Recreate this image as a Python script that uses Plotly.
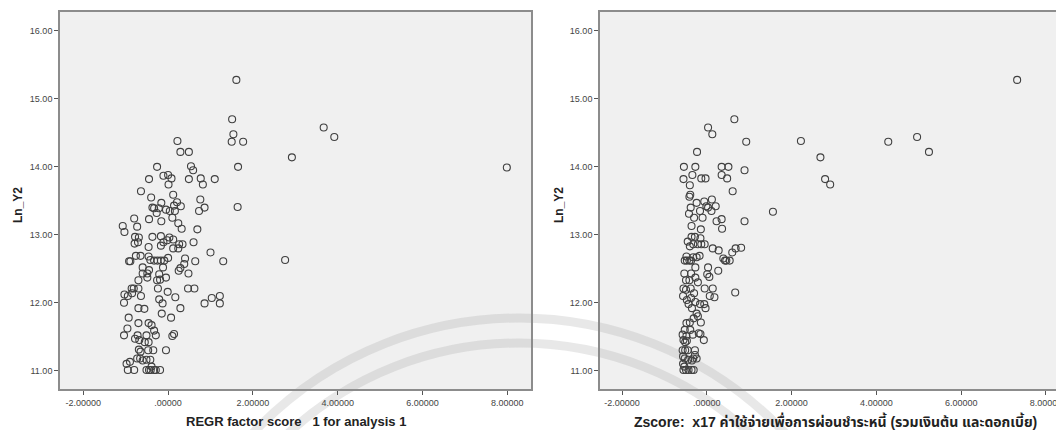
import plotly.graph_objects as go

# ---------------- data ----------------
left_x = [1.61, 1.51, 1.54, 1.50, 1.77, 3.67, 3.92, 2.92, 7.99, 1.65, 1.64, 2.76,
          0.22, 0.29, 0.49, 0.54, 0.59, 0.49, 0.77, 0.82, 1.10, 0.76, 0.86, 0.73,
          0.69, 0.60, 1.00, 1.30, 0.64, 0.40, 0.38, 0.48, 0.29, 0.25, 0.47, 0.62,
          1.03, 1.22, 0.86, 1.22, 0.17, 0.29, 0.07, 0.14, 0.10, -0.05, -0.15, -0.21,
          -0.13, -0.01, -0.05, -0.12, 0.00, -0.09, -0.17, -0.25, -0.33, -0.42, -0.46,
          -0.17, -0.11, -0.17, -0.37, -0.02, 0.03, 0.12, 0.12, 0.24, 0.26, 0.34,
          0.24, 0.32, 0.10, 0.16, 0.04, -0.05, 0.21, 0.14, 0.12, 0.30, 0.01, 0.08,
          0.00, -0.11, -0.26, -0.45, -0.64, -0.40, -0.16, -0.37, -0.33, -0.22, -0.27,
          -0.16, -0.45, -0.80, -0.73, -1.07, -1.03, -0.78, -0.69, -0.79, -0.71, -0.46,
          -0.76, -0.65, -0.92, -0.89, -0.60, -0.60, -0.49, -0.49, -0.70, -0.45, -0.21,
          -0.26, -0.19, -0.24, -0.86, -0.81, -0.85, -0.70, -0.64, -1.03, -0.95, -1.04,
          -0.70, -0.56, -0.93, -0.96, -1.04, -0.70, -0.46, -0.39, -0.33, -0.29, -0.51,
          -0.72, -0.78, -0.68, -0.55, -0.46, -0.69, -0.65, -0.47, -0.35, -0.73, -0.66,
          -0.60, -0.51, -0.42, -0.98, -0.90, -0.95, -0.80, -0.51, -0.45, -0.39, -0.33,
          -0.19, -0.29, -0.41]
left_y = [15.28, 14.70, 14.48, 14.37, 14.37, 14.58, 14.44, 14.14, 13.99, 14.00, 13.41, 12.63,
          14.38, 14.22, 14.22, 14.01, 13.95, 13.82, 13.83, 13.74, 13.82, 13.52, 13.40, 13.35,
          13.08, 12.89, 12.74, 12.61, 12.61, 12.65, 12.57, 12.43, 12.51, 12.47, 12.21, 12.21,
          12.07, 12.10, 11.99, 11.99, 12.08, 11.92, 11.78, 11.54, 11.51, 11.30, 11.84, 12.05,
          11.99, 12.16, 12.37, 12.52, 12.66, 12.62, 12.62, 12.62, 12.62, 12.63, 12.68,
          12.84, 12.89, 12.98, 12.97, 12.92, 12.96, 12.93, 12.80, 12.80, 12.86, 12.86,
          13.17, 13.09, 13.25, 13.35, 13.35, 13.37, 13.48, 13.43, 13.59, 13.42, 13.74, 13.83,
          13.88, 13.87, 14.00, 13.82, 13.64, 13.55, 13.47, 13.40, 13.39, 13.39, 13.32,
          13.20, 13.23, 13.24, 13.12, 13.13, 13.04, 12.97, 12.96, 12.87, 12.89, 12.82,
          12.69, 12.69, 12.61, 12.61, 12.52, 12.43, 12.43, 12.37, 12.33, 12.48, 12.42,
          12.33, 12.34, 12.21, 12.21, 12.21, 12.14, 12.21, 12.10, 12.12, 12.10, 12.00,
          11.92, 11.91, 11.78, 11.62, 11.52, 11.70, 11.70, 11.67, 11.59, 11.52, 11.52,
          11.52, 11.47, 11.45, 11.42, 11.42, 11.31, 11.28, 11.30, 11.30, 11.18, 11.18,
          11.15, 11.16, 11.16, 11.10, 11.13, 11.01, 11.01, 11.01, 11.01, 11.06, 11.01,
          11.01, 11.01, 11.01]

right_x = [7.32, 4.96, 4.28, 5.24, 2.22, 2.68, 2.79, 2.91, 1.56, 0.65, 0.03, 0.13, 0.93,
           -0.23, -0.54, -0.27, 0.35, 0.51, 0.89, 0.35, 0.48, -0.55, -0.34, -0.13, -0.03,
           -0.40, 0.61, -0.39, -0.41, -0.24, -0.06, 0.12, 0.21, -0.01, 0.03, 0.11, -0.16,
           -0.38, -0.42, -0.30, -0.10, 0.23, 0.35, 0.89, 0.36, -0.36, -0.14, -0.36, -0.28,
           -0.45, -0.40, -0.32, -0.21, -0.13, -0.05, -0.15, 0.14, 0.28, 0.81, 0.68, 0.60,
           0.39, 0.46, 0.54, 0.43, -0.48, -0.32, -0.24, -0.17, -0.52, -0.47, -0.41, -0.37,
           -0.27, -0.53, -0.37, -0.27, -0.49, -0.41, -0.21, 0.03, 0.06, 0.01, 0.27, -0.05,
           0.14, 0.07, 0.18, 0.67, -0.55, -0.49, -0.38, -0.30, -0.56, -0.47, -0.37, -0.27,
           -0.43, -0.16, -0.06, -0.03, -0.35, -0.24, -0.21, -0.31, -0.14, -0.48, -0.40,
           -0.52, -0.39, -0.57, -0.48, -0.33, -0.19, -0.15, -0.07, -0.55, -0.51, -0.47,
           -0.57, -0.51, -0.45, -0.28, -0.28, -0.52, -0.44, -0.32, -0.24, -0.35, -0.56,
           -0.53, -0.55, -0.49, -0.43, -0.36, -0.31, -0.56]
right_y = [15.28, 14.44, 14.37, 14.22, 14.38, 14.14, 13.82, 13.74, 13.34, 14.70, 14.58, 14.48, 14.37,
           14.22, 14.00, 14.00, 14.00, 14.00, 13.95, 13.88, 13.83, 13.82, 13.88, 13.83, 13.83,
           13.73, 13.64, 13.59, 13.56, 13.47, 13.49, 13.52, 13.42, 13.42, 13.40, 13.35, 13.35,
           13.40, 13.31, 13.25, 13.25, 13.20, 13.23, 13.20, 13.09, 13.13, 13.08, 12.97, 12.97,
           12.90, 12.83, 12.86, 12.86, 12.86, 12.86, 12.95, 12.80, 12.77, 12.81, 12.80, 12.74,
           12.65, 12.62, 12.62, 12.62, 12.68, 12.67, 12.67, 12.69, 12.62, 12.62, 12.62, 12.62,
           12.52, 12.43, 12.43, 12.37, 12.33, 12.33, 12.30, 12.52, 12.38, 12.42, 12.47, 12.21,
           12.21, 12.10, 12.08, 12.15, 12.21, 12.19, 12.21, 12.14, 12.10, 12.04, 12.07, 12.01,
           11.98, 11.98, 11.98, 11.92, 11.92, 11.84, 11.80, 11.77, 11.71, 11.70, 11.71,
           11.60, 11.60, 11.53, 11.51, 11.53, 11.55, 11.54, 11.45, 11.45, 11.42, 11.44,
           11.30, 11.30, 11.30, 11.30, 11.23, 11.18, 11.16, 11.18, 11.18, 11.15, 11.10,
           11.06, 11.01, 11.01, 11.01, 11.01, 11.01, 11.21]

x_tickvals = [-2, 0, 2, 4, 6, 8]
x_ticktext = ["-2.00000", ".00000", "2.00000", "4.00000", "6.00000", "8.00000"]
y_tickvals = [11, 12, 13, 14, 15, 16]
y_ticktext = ["11.00", "12.00", "13.00", "14.00", "15.00", "16.00"]

left_xtitle = "REGR factor score\u00a0\u00a0\u00a01 for analysis 1"
right_xtitle = "Zscore:\u00a0\u00a0x17 ค่าใช้จ่ายเพื่อการผ่อนชำระหนี้ (รวมเงินต้น และดอกเบี้ย)"
ytitle = "Ln_Y2"

# ---------------- layout helpers (page pixels; body has an 8px margin) ----------------
OFF = 8
W, H = 1064 - OFF, 430 - OFF


def px(x):
    return (x - OFF) / W


def py(y):
    return 1 - (y - OFF) / H


FONT = "Liberation Sans, Arial, Noto Sans Thai, sans-serif"
AX = "#8c8c8c"
BG = "#f0f0f0"

TOP, BOT = 11.7, 389
L1, R1 = 60, 531
L2, R2 = 600, 1064

marker = dict(symbol="circle-open", size=7, color="#404040", line=dict(width=1.1))

fig = go.Figure()
fig.add_trace(go.Scatter(x=left_x, y=left_y, mode="markers", marker=marker,
                         xaxis="x", yaxis="y", showlegend=False))
fig.add_trace(go.Scatter(x=right_x, y=right_y, mode="markers", marker=marker,
                         xaxis="x2", yaxis="y2", showlegend=False))

ydom = [py(BOT), py(TOP)]
common_x = dict(tickvals=x_tickvals, ticktext=x_ticktext, showgrid=False, zeroline=False,
                ticks="outside", ticklen=4, tickcolor="#555", tickwidth=1,
                showline=True, linecolor=AX, linewidth=1.6, mirror=True,
                ticklabeloverflow="allow",
                tickfont=dict(family=FONT, size=9, color="#444"))
common_y = dict(tickvals=y_tickvals, ticktext=y_ticktext, showgrid=False, zeroline=False,
                ticks="outside", ticklen=4, tickcolor="#555", tickwidth=1,
                showline=True, linecolor=AX, linewidth=1.6,
                range=[10.73, 16.284], domain=ydom,
                tickfont=dict(family=FONT, size=9, color="#444"))

# plot backgrounds and faint watermark arcs (decoration, drawn below the points)
shapes = [
    dict(type="rect", xref="paper", yref="paper", x0=px(L1), x1=px(R1), y0=py(BOT), y1=py(TOP),
         fillcolor=BG, line=dict(width=0), layer="below"),
    dict(type="rect", xref="paper", yref="paper", x0=px(L2), x1=px(R2), y0=py(BOT), y1=py(TOP),
         fillcolor=BG, line=dict(width=0), layer="below"),
]
for r in (365, 340):
    cx, cy = 519, 683
    shapes.append(dict(type="circle", xref="paper", yref="paper",
                       x0=px(cx - r), x1=px(cx + r), y0=py(cy + r), y1=py(cy - r),
                       line=dict(color="rgba(150,150,150,0.22)", width=9),
                       fillcolor="rgba(0,0,0,0)", layer="below"))

fig.update_layout(
    width=W, height=H,
    margin=dict(l=0, r=0, t=0, b=0),
    paper_bgcolor="white", plot_bgcolor="rgba(0,0,0,0)",
    xaxis=dict(common_x, domain=[px(L1), px(R1)], range=[-2.55, 8.56], anchor="y"),
    yaxis=dict(common_y, anchor="x", mirror=True),
    xaxis2=dict(common_x, domain=[px(L2), 1.0], range=[-2.519, 8.425], anchor="y2"),
    yaxis2=dict(common_y, anchor="x2", mirror=False),
    shapes=shapes,
    annotations=[
        dict(text="<b>" + left_xtitle + "</b>", x=px(296), y=py(421), xref="paper", yref="paper",
             showarrow=False, font=dict(family=FONT, size=13, color="#222"),
             xanchor="center", yanchor="middle"),
        dict(text="<b>" + right_xtitle + "</b>", x=px(835), y=py(421), xref="paper", yref="paper",
             showarrow=False, font=dict(family=FONT, size=14, color="#222"),
             xanchor="center", yanchor="middle"),
        dict(text="<b>" + ytitle + "</b>", x=px(18), y=py(205), xref="paper", yref="paper",
             showarrow=False, textangle=-90, font=dict(family=FONT, size=12, color="#222"),
             xanchor="center", yanchor="middle"),
        dict(text="<b>" + ytitle + "</b>", x=px(559), y=py(205), xref="paper", yref="paper",
             showarrow=False, textangle=-90, font=dict(family=FONT, size=12, color="#222"),
             xanchor="center", yanchor="middle"),
    ],
)

fig.write_html("out.html")
